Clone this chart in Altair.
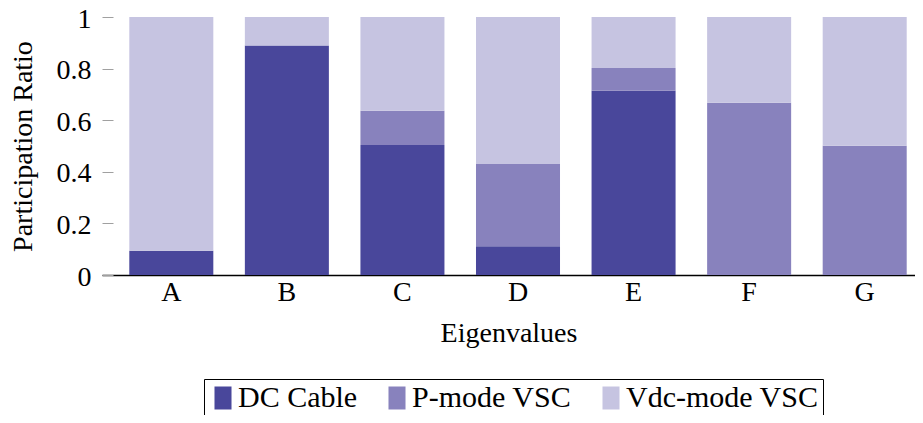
import altair as alt
import pandas as pd

categories = ["A", "B", "C", "D", "E", "F", "G"]
series = ["DC Cable", "P-mode VSC", "Vdc-mode VSC"]
dc_cable = [0.094, 0.890, 0.504, 0.111, 0.714, 0.0, 0.0]
p_mode = [0.0, 0.0, 0.133, 0.319, 0.088, 0.668, 0.501]
vdc_mode = [0.906, 0.110, 0.363, 0.570, 0.198, 0.332, 0.499]
colors = ["#49479b", "#8882bd", "#c6c4e1"]
y_ticks = [0, 0.2, 0.4, 0.6, 0.8, 1]

rows = []
for si, (name, vals) in enumerate(zip(series, [dc_cable, p_mode, vdc_mode])):
    for c, v in zip(categories, vals):
        rows.append({"Eigenvalue": c, "Series": name, "Ratio": v, "order": si})
df = pd.DataFrame(rows)

FONT = "Liberation Serif"
FS = 28
LFS = 30

chart = (
    alt.Chart(df)
    .mark_bar()
    .encode(
        x=alt.X(
            "Eigenvalue:N",
            sort=categories,
            scale=alt.Scale(paddingInner=0.273, paddingOuter=0.154, align=0.767),
            axis=alt.Axis(
                title="Eigenvalues",
                labelAngle=0,
                ticks=False,
                tickSize=0,
                labelPadding=3,
                titlePadding=13,
                domainColor="#000000",
                domainWidth=1.3,
                labelFontSize=FS,
                titleFontSize=FS,
                labelFont=FONT,
                titleFont=FONT,
                titleFontWeight="normal",
                labelColor="#000000",
                titleColor="#000000",
                grid=False,
            ),
        ),
        y=alt.Y(
            "Ratio:Q",
            stack="zero",
            scale=alt.Scale(domain=[0, 1], nice=False),
            axis=alt.Axis(
                title="Participation Ratio",
                values=y_ticks,
                format="~g",
                offset=-11,
                tickSize=11,
                tickColor="#a0a0a0",
                tickWidth=1,
                domain=False,
                labelPadding=11,
                labelOffset=2,
                titlePadding=19,
                labelFontSize=FS,
                titleFontSize=FS,
                labelFont=FONT,
                titleFont=FONT,
                titleFontWeight="normal",
                labelColor="#000000",
                titleColor="#000000",
                grid=False,
            ),
        ),
        color=alt.Color(
            "Series:N",
            sort=series,
            scale=alt.Scale(domain=series, range=colors),
            legend=alt.Legend(
                title=None,
                orient="none",
                legendX=102,
                legendY=362,
                direction="horizontal",
                symbolType="M-0.74,-1H0.74V1H-0.74Z",
                symbolSize=529,
                symbolStrokeWidth=0,
                symbolOpacity=1,
                labelFontSize=LFS,
                labelFont=FONT,
                labelColor="#000000",
                labelLimit=500,
                labelOffset=0,
                columnPadding=24,
                padding=4,
                strokeColor="#000000",
                fillColor="#ffffff",
            ),
        ),
        order=alt.Order("order:Q", sort="ascending"),
    )
    .properties(
        width=813,
        height=258,
        autosize=alt.AutoSizeParams(type="none"),
        padding={"left": 94, "top": 9, "right": 0, "bottom": 140},
    )
    .configure(font=FONT)
    .configure_view(stroke=None)
    .configure_legend(labelFont=FONT, labelFontSize=LFS, titleFont=FONT)
)

chart.save("out.html", embed_options={"renderer": "svg", "actions": False})
